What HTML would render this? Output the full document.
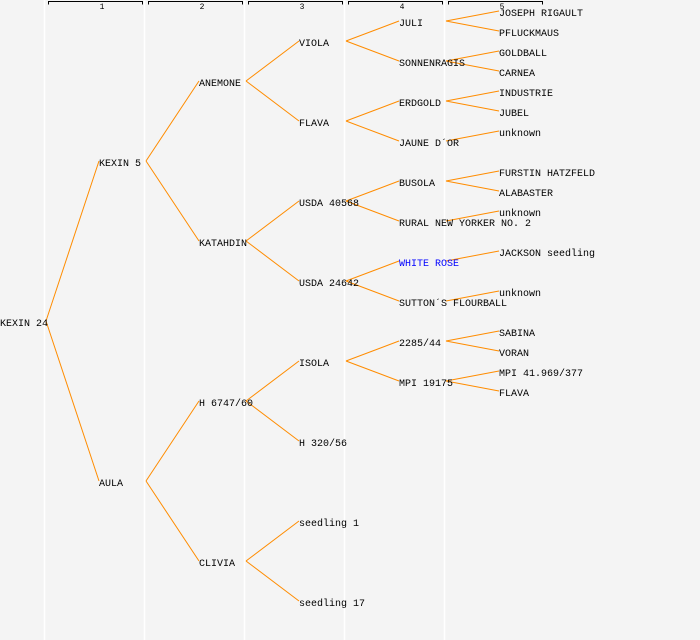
<!DOCTYPE html>
<html><head><meta charset="utf-8"><style>
html,body{margin:0;padding:0;background:#f4f4f4}
svg{display:block}
text{font-family:"Liberation Mono",monospace;font-size:10px;fill:#000}
</style></head><body>
<svg width="700" height="640" viewBox="0 0 700 640" xmlns="http://www.w3.org/2000/svg">
<rect width="700" height="640" fill="#f4f4f4"/>
<g stroke="#fff" stroke-width="1.5">
<line x1="44.5" y1="0" x2="44.5" y2="640"/><line x1="144.5" y1="0" x2="144.5" y2="640"/><line x1="244.5" y1="0" x2="244.5" y2="640"/><line x1="344.5" y1="0" x2="344.5" y2="640"/><line x1="444.5" y1="0" x2="444.5" y2="640"/>
</g>
<g stroke="#000" stroke-width="1" fill="none">
<path d="M48.5,4.5V1.5H142.5V4.5"/><path d="M148.5,4.5V1.5H242.5V4.5"/><path d="M248.5,4.5V1.5H342.5V4.5"/><path d="M348.5,4.5V1.5H442.5V4.5"/><path d="M448.5,4.5V1.5H542.5V4.5"/>
</g>
<g style="font-size:8px" text-anchor="middle">
<text x="102" y="9" style="font-size:8px">1</text><text x="202" y="9" style="font-size:8px">2</text><text x="302" y="9" style="font-size:8px">3</text><text x="402" y="9" style="font-size:8px">4</text><text x="502" y="9" style="font-size:8px">5</text>
</g>
<g stroke="#ff8c00" stroke-width="1" fill="none">
<path d="M46,321L99,161M46,321L99,481"/>
<path d="M146,161L199,81M146,161L199,241M146,481L199,401M146,481L199,561"/>
<path d="M246,81L299,41M246,81L299,121M246,241L299,201M246,241L299,281M246,401L299,361M246,401L299,441M246,561L299,521M246,561L299,601"/>
<path d="M346,41L399,21M346,41L399,61M346,121L399,101M346,121L399,141M346,201L399,181M346,201L399,221M346,281L399,261M346,281L399,301M346,361L399,341M346,361L399,381"/>
<path d="M446,21L499,11M446,21L499,31M446,61L499,51M446,61L499,71M446,101L499,91M446,101L499,111M446,141L499,131M446,181L499,171M446,181L499,191M446,221L499,211M446,261L499,251M446,301L499,291M446,341L499,331M446,341L499,351M446,381L499,371M446,381L499,391"/>
</g>
<text x="0" y="326">KEXIN 24</text>
<text x="99" y="166">KEXIN 5</text>
<text x="99" y="486">AULA</text>
<text x="199" y="86">ANEMONE</text>
<text x="199" y="246">KATAHDIN</text>
<text x="199" y="406">H 6747/60</text>
<text x="199" y="566">CLIVIA</text>
<text x="299" y="46">VIOLA</text>
<text x="299" y="126">FLAVA</text>
<text x="299" y="206">USDA 40568</text>
<text x="299" y="286">USDA 24642</text>
<text x="299" y="366">ISOLA</text>
<text x="299" y="446">H 320/56</text>
<text x="299" y="526">seedling 1</text>
<text x="299" y="606">seedling 17</text>
<text x="399" y="26">JULI</text>
<text x="399" y="66">SONNENRAGIS</text>
<text x="399" y="106">ERDGOLD</text>
<text x="399" y="146">JAUNE D´OR</text>
<text x="399" y="186">BUSOLA</text>
<text x="399" y="226">RURAL NEW YORKER NO. 2</text>
<text x="399" y="266" style="fill:#0000ff">WHITE ROSE</text>
<text x="399" y="306">SUTTON´S FLOURBALL</text>
<text x="399" y="346">2285/44</text>
<text x="399" y="386">MPI 19175</text>
<text x="499" y="16">JOSEPH RIGAULT</text>
<text x="499" y="36">PFLUCKMAUS</text>
<text x="499" y="56">GOLDBALL</text>
<text x="499" y="76">CARNEA</text>
<text x="499" y="96">INDUSTRIE</text>
<text x="499" y="116">JUBEL</text>
<text x="499" y="136">unknown</text>
<text x="499" y="176">FURSTIN HATZFELD</text>
<text x="499" y="196">ALABASTER</text>
<text x="499" y="216">unknown</text>
<text x="499" y="256">JACKSON seedling</text>
<text x="499" y="296">unknown</text>
<text x="499" y="336">SABINA</text>
<text x="499" y="356">VORAN</text>
<text x="499" y="376">MPI 41.969/377</text>
<text x="499" y="396">FLAVA</text>
</svg>
</body></html>
